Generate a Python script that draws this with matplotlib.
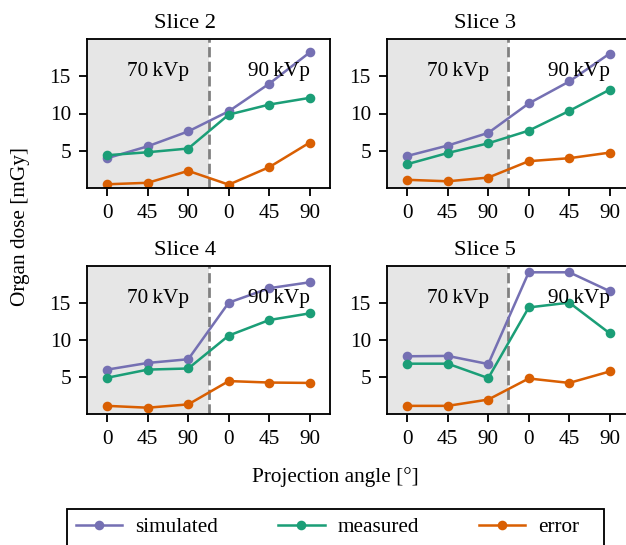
import matplotlib
matplotlib.use("Agg")
import matplotlib.pyplot as plt
from matplotlib.patches import Rectangle
import numpy as np

plt.rcParams["font.family"] = ["Liberation Serif", "DejaVu Serif"]
plt.rcParams["font.size"] = 9.3
plt.rcParams["axes.titlesize"] = 9.8

# Data
angles = ["0", "45", "90", "0", "45", "90"]
slice_names = ["Slice 2", "Slice 3", "Slice 4", "Slice 5"]

simulated = [
    [4.0, 5.6, 7.6, 10.3, 14.0, 18.2],
    [4.3, 5.7, 7.4, 11.35, 14.3, 18.05],
    [6.0, 6.9, 7.4, 15.05, 17.0, 17.8],
    [7.8, 7.85, 6.75, 19.15, 19.15, 16.6],
]
measured = [
    [4.4, 4.8, 5.3, 9.85, 11.2, 12.1],
    [3.2, 4.7, 6.0, 7.7, 10.35, 13.2],
    [4.9, 6.0, 6.15, 10.6, 12.7, 13.6],
    [6.8, 6.8, 4.85, 14.4, 15.05, 10.9],
]
error = [
    [0.5, 0.7, 2.3, 0.45, 2.8, 6.1],
    [1.1, 0.9, 1.4, 3.6, 4.0, 4.75],
    [1.1, 0.85, 1.3, 4.45, 4.25, 4.2],
    [1.1, 1.1, 1.95, 4.8, 4.2, 5.75],
]

colors = {"simulated": "#7570b3", "measured": "#1b9e77", "error": "#d95f02"}

W, H = 626, 545
dpi = 165
fig = plt.figure(figsize=(W / dpi, H / dpi), dpi=dpi)

# axes boxes in pixels: (left, top, right, bottom)
boxes = [(87, 39, 330, 188), (387, 39, 630, 188),
         (87, 266, 330, 414), (387, 266, 630, 414)]

x = np.arange(len(angles))
handles = []
for i, (l, t, r, b) in enumerate(boxes):
    ax = fig.add_axes([l / W, (H - b) / H, (r - l) / W, (b - t) / H])
    ax.axvspan(-0.5, 2.5, color="0.9", zorder=0, lw=0)
    ax.axvline(2.5, color="gray", ls="--", lw=1.2, zorder=1)
    h1, = ax.plot(x, simulated[i], "-o", color=colors["simulated"], lw=1.1, ms=3.2, label="simulated")
    h2, = ax.plot(x, measured[i], "-o", color=colors["measured"], lw=1.1, ms=3.2, label="measured")
    h3, = ax.plot(x, error[i], "-o", color=colors["error"], lw=1.1, ms=3.2, label="error")
    handles = [h1, h2, h3]
    ax.text(1.25, 15.0, "70\u2009kVp", ha="center", va="baseline")
    ax.text(4.25, 15.0, "90\u2009kVp", ha="center", va="baseline")
    ax.set_xlim(-0.5, 5.5)
    ax.set_ylim(0, 20)
    ax.set_yticks([5, 10, 15])
    ax.set_xticks(x)
    ax.set_xticklabels(angles)
    ax.set_title(slice_names[i], x=0.403, pad=5)

fig.text(21 / W, (H - 226) / H, "Organ dose [mGy]", rotation=90, ha="center", va="center")
fig.text(335.5 / W, (H - 477) / H, "Projection angle [°]", ha="center", va="center")

# legend box (runs past the bottom edge like the original)
fig.patches.append(Rectangle((67 / W, -0.05), 537 / W, (H - 509) / H + 0.05,
                             transform=fig.transFigure, fill=False, edgecolor="k", lw=0.8))
fig.legend(handles=handles, loc="upper left", ncol=3, frameon=False,
           bbox_to_anchor=(67 / W, (H - 509) / H), borderaxespad=0,
           handlelength=2.2, handletextpad=0.6, columnspacing=2.8)

fig.savefig("out.png", dpi=dpi)
